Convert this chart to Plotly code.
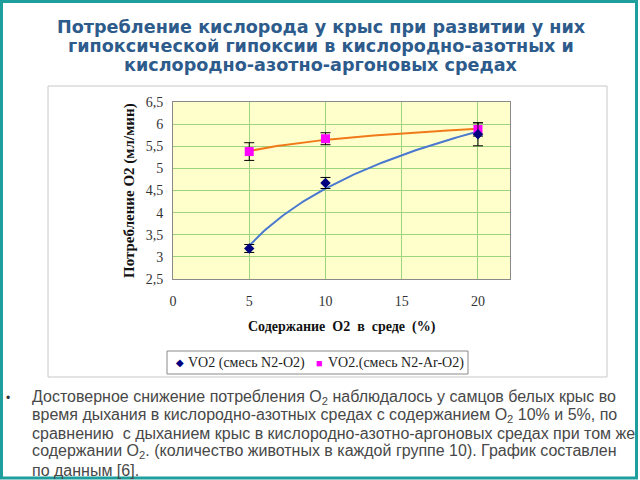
import numpy as np
import plotly.graph_objects as go

# ---- data ----
o2_percent = [5, 10, 20]
vo2_n2 = [3.19, 4.67, 5.77]
vo2_n2_err = [0.09, 0.125, 0.26]
vo2_n2ar = [5.38, 5.67, 5.88]
vo2_n2ar_err = [0.2, 0.135, 0.15]
x_ticks = [0, 5, 10, 15, 20]
y_ticks = [2.5, 3, 3.5, 4, 4.5, 5, 5.5, 6, 6.5]
y_tick_labels = ["2,5", "3", "3,5", "4", "4,5", "5", "5,5", "6", "6,5"]
name_n2 = "VO2 (смесь N2-O2)"
name_n2ar = "VO2.(смесь N2-Ar-O2)"
title_lines = [
    "Потребление кислорода у крыс при развитии у них",
    "гипоксической гипоксии в кислородно-азотных и",
    "кислородно-азотно-аргоновых средах",
]
body_lines = [
    "Достоверное снижение потребления O<sub>2</sub> наблюдалось у самцов белых крыс во",
    "время дыхания в кислородно-азотных средах с содержанием O<sub>2</sub> 10% и 5%, по",
    "сравнению  с дыханием крыс в кислородно-азотно-аргоновых средах при том же",
    "содержании O<sub>2</sub>. (количество животных в каждой группе 10). График составлен",
    "по данным [6].",
]

# ---- layout geometry (pixels) ----
W, H = 640, 480
L, R, T, B = 173, 510, 102, 279


def px(x):
    return (x - L) / (R - L)


def py(y):
    return (B - y) / (B - T)


# logarithmic trendlines (least squares fit on ln x)
def log_fit(xs, ys):
    a, b = np.polyfit(np.log(xs), ys, 1)
    xx = np.linspace(min(xs), max(xs), 80)
    return xx, a * np.log(xx) + b


fig = go.Figure()
tx1, ty1 = log_fit(o2_percent, vo2_n2)
tx2, ty2 = log_fit(o2_percent, vo2_n2ar)
fig.add_trace(go.Scatter(x=tx1, y=ty1, mode="lines", line=dict(color="#4a78d0", width=2),
                         showlegend=False, hoverinfo="skip"))
fig.add_trace(go.Scatter(x=tx2, y=ty2, mode="lines", line=dict(color="#f07a1a", width=2),
                         showlegend=False, hoverinfo="skip"))
fig.add_trace(go.Scatter(
    x=o2_percent, y=vo2_n2ar, mode="markers", name=name_n2ar, showlegend=False,
    marker=dict(symbol="square", size=9, color="#ff00ff"),
    error_y=dict(type="data", array=vo2_n2ar_err, color="#000000", thickness=1, width=5)))
fig.add_trace(go.Scatter(
    x=o2_percent, y=vo2_n2, mode="markers", name=name_n2, showlegend=False,
    marker=dict(symbol="diamond", size=8, color="#000080"),
    error_y=dict(type="data", array=vo2_n2_err, color="#000000", thickness=1, width=5)))

serif = "Liberation Serif, Times New Roman, serif"
sans = "Liberation Sans, Arial, sans-serif"
title_font = "DejaVu Sans, Verdana, sans-serif"

fig.update_xaxes(range=[0, 22.1], tickvals=x_ticks, showgrid=True, gridcolor="#9fd47f",
                 gridwidth=1, zeroline=False, showline=True, linecolor="#8a8a8a", mirror=True,
                 ticks="", tickfont=dict(family=serif, size=14, color="#333333"), ticklabelstandoff=9)
fig.update_yaxes(range=[2.5, 6.5], tickvals=y_ticks, ticktext=y_tick_labels, showgrid=True,
                 gridcolor="#9fd47f", gridwidth=1, zeroline=False, showline=True,
                 linecolor="#8a8a8a", mirror=True, ticks="",
                 tickfont=dict(family=serif, size=14, color="#333333"), ticklabelstandoff=6)

annotations = []
for i, t in enumerate(title_lines):
    annotations.append(dict(text="<b>" + t + "</b>", x=px(321), y=py(26.5 + i * 19.3),
                            xref="paper", yref="paper", showarrow=False,
                            font=dict(family=title_font, size=17.6, color="#2d5b8b"),
                            xanchor="center", yanchor="middle"))
body_y = [397, 415, 433, 451, 470]
for t, yy in zip(body_lines, body_y):
    annotations.append(dict(text=t, x=px(30), y=py(yy), xref="paper", yref="paper",
                            showarrow=False, font=dict(family=sans, size=16, color="#484848"),
                            xanchor="left", yanchor="middle"))
annotations.append(dict(text="•", x=px(8), y=py(398), xref="paper", yref="paper", showarrow=False,
                        font=dict(family=sans, size=12, color="#333333"),
                        xanchor="center", yanchor="middle"))
annotations.append(dict(text="<b>Потребление O2 (мл/мин)</b>", x=px(129), y=py(191),
                        xref="paper", yref="paper", showarrow=False, textangle=-90,
                        font=dict(family=serif, size=15, color="#111111"),
                        xanchor="center", yanchor="middle"))
annotations.append(dict(text="<b>Содержание  O2  в  среде  (%)</b>", x=px(342), y=py(327),
                        xref="paper", yref="paper", showarrow=False,
                        font=dict(family=serif, size=14, color="#111111"),
                        xanchor="center", yanchor="middle"))
# legend built from text
legend_items = [
    ("◆", 174, "#000080", 10),
    (name_n2, 186, "#222222", 14),
    ("■", 314, "#ff00ff", 11),
    (name_n2ar, 326, "#222222", 14),
]
for txt, xx, col, sz in legend_items:
    annotations.append(dict(text=txt, x=px(xx), y=py(362.5), xref="paper", yref="paper",
                            showarrow=False, font=dict(family=serif, size=sz, color=col),
                            xanchor="left", yanchor="middle"))

shapes = [
    # chart frame
    dict(type="rect", xref="paper", yref="paper", x0=px(48), x1=px(607), y0=py(86), y1=py(377),
         line=dict(color="#c8c8c8", width=1), layer="below"),
    # legend frame
    dict(type="rect", xref="paper", yref="paper", x0=px(167), x1=px(468), y0=py(351), y1=py(374),
         line=dict(color="#8a8a8a", width=1), layer="below"),
    # slide border
    dict(type="rect", xref="paper", yref="paper", x0=px(1.5), x1=px(636.5), y0=py(1.5),
         y1=py(478), line=dict(color="#1f9e9e", width=3), layer="above"),
]

fig.update_layout(
    width=W, height=H,
    margin=dict(l=L, r=W - R, t=T, b=H - B, pad=0),
    paper_bgcolor="#ffffff", plot_bgcolor="#ffffcc",
    showlegend=False,
    annotations=annotations, shapes=shapes,
)

fig.write_html("out.html", config={"displayModeBar": False},
               post_script="document.body.style.margin='0';")
